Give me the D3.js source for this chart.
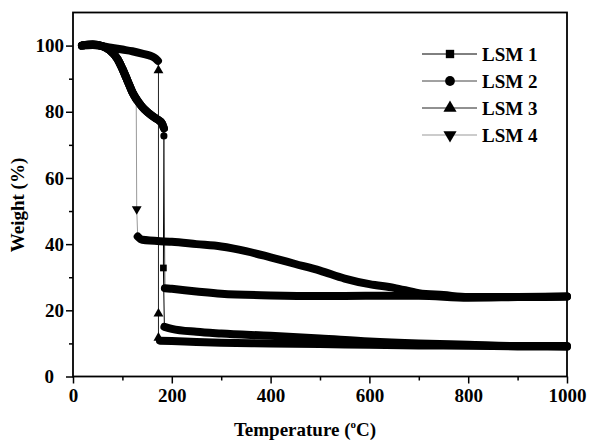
<!DOCTYPE html>
<html>
<head>
<meta charset="utf-8">
<script src="https://cdn.jsdelivr.net/npm/d3@7"></script>
<style>
  body { margin: 0; background: #fff; }
  text { font-family: "Liberation Serif", "Times New Roman", serif; font-weight: bold; }
</style>
</head>
<body>
<div id="chart"></div>
<script>
// series names / legend
var seriesNames = ["LSM 1", "LSM 2", "LSM 3", "LSM 4"];
var seriesSymbols = ["square", "circle", "up", "down"];
var seriesLineColors = ["#000", "#444", "#222", "#999"];

// axis ticks
var xTicks = [0, 200, 400, 600, 800, 1000];
var yTicks = [0, 20, 40, 60, 80, 100];

// dense part before the sudden drop [T (°C), weight %]
var lsm1Before = [[18,100],[40,100.3],[60,99.8],[75,98.5],[90,96],[100,93],[110,89.5],[120,86],[130,83.5],[140,81.5],[150,80],[160,78.8],[170,77.8],[180,76.5],[184,75]];
var lsm2Before = [[18,100],[40,100.3],[60,99.8],[75,98.5],[90,96],[100,93],[110,89.5],[120,86],[130,83.5],[140,81.5],[150,80],[160,78.8],[170,77.8],[180,76.5],[184,75]];
var lsm3Before = [[18,100],[40,100.2],[60,99.8],[80,99.3],[100,98.8],[120,98.3],[140,97.6],[155,97],[165,96.3],[172,95.4]];
var lsm4Before = [[18,100],[40,100.3],[60,99.8],[75,98.5],[90,96],[100,93],[110,89.5],[120,86],[128,83.8]];

// sparse points recorded during the drop
var lsm1Drop = [[183,32.8]];
var lsm2Drop = [[184,72.7]];
var lsm3Drop = [[173,92.5],[173,19],[173,11.7]];
var lsm4Drop = [[129,50.6]];

// dense part after the drop
var lsm1After = [[185,15],[200,14.4],[250,13.5],[300,13],[400,12.3],[500,11.5],[600,10.6],[700,10],[800,9.6],[900,9.2],[1000,9.2]];
var lsm2After = [[186,26.7],[200,26.5],[250,25.7],[300,25],[400,24.5],[500,24.3],[600,24.4],[700,24.4],[800,23.8],[900,24],[1000,24.2]];
var lsm3After = [[176,10.8],[200,10.7],[250,10.4],[300,10.2],[400,10],[500,9.8],[600,9.6],[700,9.4],[800,9.3],[900,9.1],[1000,9]];
var lsm4After = [[131,42.3],[140,41.3],[200,40.7],[250,40],[300,39.3],[350,37.9],[400,36],[450,34],[500,32],[550,29.6],[600,27.9],[650,26.8],[700,25.2],[750,24.6],[800,24],[900,24],[1000,24.2]];

var befores = [lsm1Before, lsm2Before, lsm3Before, lsm4Before];
var drops = [lsm1Drop, lsm2Drop, lsm3Drop, lsm4Drop];
var afters = [lsm1After, lsm2After, lsm3After, lsm4After];

var width = 590, height = 440;
var margin = {top: 12.5, right: 23, bottom: 63.5, left: 73};

var x_scale = d3.scaleLinear().domain([0, 1000]).range([margin.left, width - margin.right]);
var y_scale = d3.scaleLinear().domain([0, 110]).range([height - margin.bottom, margin.top]);

var svg = d3.select("#chart").append("svg")
    .attr("width", width)
    .attr("height", height);

function symbolPath(kind, size) {
  var type = kind == "square" ? d3.symbolSquare : kind == "circle" ? d3.symbolCircle : d3.symbolTriangle;
  return d3.symbol().type(type).size(size)();
}
function symbolTransform(kind, px, py) {
  return "translate(" + px + "," + py + ")" + (kind == "down" ? " rotate(180)" : "");
}

var thick = d3.line()
    .curve(d3.curveMonotoneX)
    .x(function(d) { return x_scale(d[0]); })
    .y(function(d) { return y_scale(d[1]); });

var thin = d3.line()
    .x(function(d) { return x_scale(d[0]); })
    .y(function(d) { return y_scale(d[1]); });

// thin connecting lines through the drop
for (var i = 0; i < 4; i++) {
  var pts = [befores[i][befores[i].length - 1]].concat(drops[i], [afters[i][0]]);
  svg.append("path")
      .datum(pts)
      .attr("fill", "none")
      .attr("stroke", seriesLineColors[i])
      .attr("stroke-width", 1)
      .attr("d", thin);
}

// dense marker bands
for (var i = 0; i < 4; i++) {
  [befores[i], afters[i]].forEach(function(seg) {
    svg.append("path")
        .datum(seg)
        .attr("fill", "none")
        .attr("stroke", "#000")
        .attr("stroke-width", 8)
        .attr("stroke-linejoin", "round")
        .attr("stroke-linecap", "round")
        .attr("d", thick);
  });
}

// single markers on the drop
for (var i = 0; i < 4; i++) {
  var kind = seriesSymbols[i];
  svg.selectAll(null)
      .data(drops[i])
      .enter().append("path")
      .attr("d", symbolPath(kind, kind == "square" ? 45 : kind == "circle" ? 40 : 42))
      .attr("transform", function(d) { return symbolTransform(kind, x_scale(d[0]), y_scale(d[1])); })
      .attr("fill", "#000");
}

// axes
var xAxis = svg.append("g")
    .attr("transform", "translate(0," + (height - margin.bottom) + ")")
    .call(d3.axisBottom(x_scale).tickValues(xTicks).tickSize(7).tickPadding(5).tickFormat(d3.format("d")));
svg.append("g")
    .attr("transform", "translate(0," + (height - margin.bottom) + ")")
    .call(d3.axisBottom(x_scale).tickValues(d3.range(100, 1000, 200)).tickSize(4).tickFormat(""));

var yAxis = svg.append("g")
    .attr("transform", "translate(" + margin.left + ",0)")
    .call(d3.axisLeft(y_scale).tickValues(yTicks).tickSize(7).tickPadding(2).tickFormat(d3.format("d")));
svg.append("g")
    .attr("transform", "translate(" + margin.left + ",0)")
    .call(d3.axisLeft(y_scale).tickValues(d3.range(10, 110, 20)).tickSize(4).tickFormat(""));

svg.selectAll(".domain").remove();
svg.selectAll(".tick line").attr("stroke", "#000").attr("stroke-width", 1.5);
svg.selectAll(".tick text")
    .attr("fill", "#000")
    .style("font-family", "'Liberation Serif', serif")
    .style("font-weight", "bold")
    .style("font-size", "19px");
yAxis.selectAll(".tick text").filter(function(d) { return d == 0; }).attr("x", -19);

// frame
svg.append("rect")
    .attr("x", x_scale(0))
    .attr("y", y_scale(110))
    .attr("width", x_scale(1000) - x_scale(0))
    .attr("height", y_scale(0) - y_scale(110))
    .attr("fill", "none")
    .attr("stroke", "#000")
    .attr("stroke-width", 1.8);

// axis titles
var xt = svg.append("text")
    .attr("x", 305)
    .attr("y", 436)
    .attr("text-anchor", "middle")
    .style("font-size", "19px");
xt.append("tspan").text("Temperature (");
xt.append("tspan").attr("dy", -8).style("font-size", "11px").text("o");
xt.append("tspan").attr("dy", 8).text("C)");

svg.append("text")
    .attr("transform", "translate(24,205) rotate(-90)")
    .attr("text-anchor", "middle")
    .style("font-size", "19px")
    .text("Weight (%)");

// legend
var legend = svg.append("g");
seriesNames.forEach(function(name, i) {
  var ly = 54 + i * 27;
  legend.append("line")
      .attr("x1", 422).attr("x2", 477)
      .attr("y1", ly).attr("y2", ly)
      .attr("stroke", seriesLineColors[i])
      .attr("stroke-width", 1);
  legend.append("path")
      .attr("d", symbolPath(seriesSymbols[i], seriesSymbols[i] == "square" ? 70 : 75))
      .attr("transform", symbolTransform(seriesSymbols[i], 450, ly))
      .attr("fill", "#000");
  legend.append("text")
      .attr("x", 482)
      .attr("y", ly + 6.5)
      .style("font-size", "19px")
      .text(name);
});
</script>
</body>
</html>
